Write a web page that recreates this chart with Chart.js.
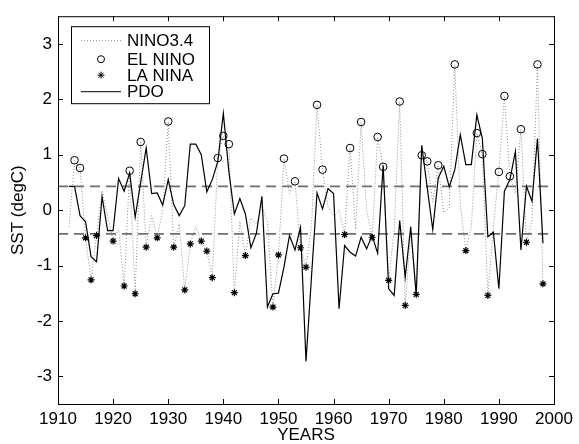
<!DOCTYPE html>
<html>
<head>
<meta charset="utf-8">
<script src="https://cdn.jsdelivr.net/npm/chart.js@4.4.1/dist/chart.umd.min.js"></script>
<style>
html, body { margin: 0; padding: 0; background: #fff; }
</style>
</head>
<body>
<canvas id="sst-chart" width="579" height="444"></canvas>
<script>
const years = [
    1912, 1913, 1914, 1915, 1916, 1917, 1918, 1919,
    1920, 1921, 1922, 1923, 1924, 1925, 1926, 1927, 1928, 1929,
    1930, 1931, 1932, 1933, 1934, 1935, 1936, 1937, 1938, 1939,
    1940, 1941, 1942, 1943, 1944, 1945, 1946, 1947, 1948, 1949,
    1950, 1951, 1952, 1953, 1954, 1955, 1956, 1957, 1958, 1959,
    1960, 1961, 1962, 1963, 1964, 1965, 1966, 1967, 1968, 1969,
    1970, 1971, 1972, 1973, 1974, 1975, 1976, 1977, 1978, 1979,
    1980, 1981, 1982, 1983, 1984, 1985, 1986, 1987, 1988, 1989,
    1990, 1991, 1992, 1993, 1994, 1995, 1996, 1997, 1998
];

const nino34 = [
    -0.30, 0.90, 0.76, -0.50, -1.26, -0.46, 0.35, -0.10,
    -0.56, -0.35, -1.37, 0.71, -1.51, 1.23, -0.67, -0.10, -0.50, 0.00,
    1.60, -0.67, -0.25, -1.44, -0.61, -0.30, -0.56, -0.74, -1.22, 0.94,
    1.34, 1.19, -1.49, -0.20, -0.82, -0.15, -0.25, 0.05, -0.20, -1.75,
    -0.81, 0.93, 0.30, 0.52, -0.68, -1.03, -0.30, 1.90, 0.73, 0.05,
    -0.10, 0.00, -0.44, 1.12, -0.35, 1.59, 0.00, -0.49, 1.32, 0.78,
    -1.27, -0.35, 1.96, -1.72, -0.40, -1.52, 0.99, 0.88, 0.15, 0.81,
    -0.05, 0.05, 2.63, 0.10, -0.73, -0.30, 1.39, 1.01, -1.54, -0.30,
    0.69, 2.06, 0.61, 0.30, 1.46, -0.58, -0.20, 2.63, -1.33
];

const pdo = [
    0.43, 0.43, -0.10, -0.21, -0.84, -0.93, 0.24, -0.37,
    -0.37, 0.57, 0.34, 0.67, -0.13, 0.50, 1.12, 0.30, 0.31, 0.09,
    0.55, 0.10, -0.10, 0.08, 1.19, 1.19, 1.00, 0.33, 0.55, 0.88,
    1.75, 0.70, -0.07, 0.21, -0.07, -0.68, -0.42, 0.25, -1.75, -1.51,
    -1.50, -1.03, -0.46, -0.72, -0.31, -2.73, -1.20, 0.31, 0.02, 0.39,
    0.30, -1.78, -0.64, -0.76, -0.83, -0.49, -0.70, -0.46, -0.78, 0.81,
    -1.42, -1.54, -0.19, -1.21, -0.30, -1.54, 1.17, 0.40, -0.35, 0.58,
    0.79, 0.42, 0.73, 1.36, 0.82, 0.82, 1.72, 1.29, -0.48, -0.40,
    -1.42, 0.34, 0.55, 1.06, -0.72, 0.43, 0.16, 1.29, -0.60
];

const threshold = 0.43;
const xTicks = [1910, 1920, 1930, 1940, 1950, 1960, 1970, 1980, 1990, 2000];
const yTicks = [-3, -2, -1, 0, 1, 2, 3];

const fontFamily = '"Liberation Sans", Arial, Helvetica, sans-serif';

const ninoPoints = years.map((yr, i) => ({ x: yr, y: nino34[i] }));
const elNino = ninoPoints.filter(p => p.y > threshold);
const laNina = ninoPoints.filter(p => p.y < -threshold);
const pdoPoints = years.map((yr, i) => ({ x: yr, y: pdo[i] }));

function drawStar(ctx, x, y, r) {
    ctx.beginPath();
    for (let k = 0; k < 4; k++) {
        const a = k * Math.PI / 4;
        ctx.moveTo(x - r * Math.cos(a), y - r * Math.sin(a));
        ctx.lineTo(x + r * Math.cos(a), y + r * Math.sin(a));
    }
    ctx.stroke();
}

// box around the plot, inward ticks and the legend
const framePlugin = {
    id: 'frame',
    afterDraw(chart) {
        const { ctx, chartArea: a, scales } = chart;
        ctx.save();
        ctx.strokeStyle = '#000';
        ctx.lineWidth = 1;
        ctx.setLineDash([]);
        ctx.strokeRect(a.left + 0.5, a.top + 0.5, a.right - a.left, a.bottom - a.top);

        const tl = 5;
        ctx.beginPath();
        xTicks.forEach(v => {
            const px = Math.round(scales.x.getPixelForValue(v)) + 0.5;
            ctx.moveTo(px, a.bottom); ctx.lineTo(px, a.bottom - tl);
            ctx.moveTo(px, a.top); ctx.lineTo(px, a.top + tl);
        });
        yTicks.forEach(v => {
            const py = Math.round(scales.y.getPixelForValue(v)) + 0.5;
            ctx.moveTo(a.left, py); ctx.lineTo(a.left + tl, py);
            ctx.moveTo(a.right, py); ctx.lineTo(a.right - tl, py);
        });
        ctx.stroke();

        // legend
        const lx = a.left + 13, ly = a.top + 10;
        ctx.fillStyle = '#fff';
        ctx.fillRect(lx, ly, 138, 77);
        ctx.strokeRect(lx + 0.5, ly + 0.5, 138, 77);

        const rows = [ly + 14, ly + 33, ly + 49, ly + 65];
        const sx0 = lx + 10, sx1 = lx + 50, sxm = lx + 30;

        ctx.strokeStyle = '#888';
        ctx.setLineDash([1, 2]);
        ctx.beginPath();
        ctx.moveTo(sx0, rows[0] + 0.5); ctx.lineTo(sx1, rows[0] + 0.5);
        ctx.stroke();
        ctx.setLineDash([]);

        ctx.strokeStyle = '#000';
        ctx.beginPath();
        ctx.arc(sxm, rows[1], 3.5, 0, Math.PI * 2);
        ctx.stroke();
        drawStar(ctx, sxm, rows[2], 3.5);

        ctx.beginPath();
        ctx.moveTo(sx0, rows[3] + 0.5); ctx.lineTo(sx1, rows[3] + 0.5);
        ctx.stroke();

        ctx.fillStyle = '#000';
        ctx.font = '17px ' + fontFamily;
        ctx.textBaseline = 'middle';
        ctx.textAlign = 'left';
        ['NINO3.4', 'EL NINO', 'LA NINA', 'PDO'].forEach((t, i) => {
            ctx.fillText(t, lx + 56, rows[i] + 1);
        });
        ctx.restore();
    }
};

const sstChart = new Chart(document.getElementById('sst-chart').getContext('2d'), {
    type: 'line',
    data: {
        datasets: [
            {
                label: 'PDO',
                data: pdoPoints,
                borderColor: '#000',
                borderWidth: 1.2,
                pointRadius: 0,
                tension: 0,
                order: 0
            },
            {
                label: 'EL NINO',
                data: elNino,
                showLine: false,
                pointStyle: 'circle',
                pointRadius: 3.8,
                pointBorderWidth: 1,
                pointBorderColor: '#000',
                pointBackgroundColor: 'transparent',
                order: 1
            },
            {
                label: 'LA NINA',
                data: laNina,
                showLine: false,
                pointStyle: 'star',
                pointRadius: 3.5,
                pointBorderWidth: 1.2,
                pointBorderColor: '#000',
                pointBackgroundColor: '#000',
                order: 1
            },
            {
                label: 'NINO3.4',
                data: ninoPoints,
                borderColor: '#8c8c8c',
                borderWidth: 1,
                borderDash: [1, 2],
                pointRadius: 0,
                tension: 0,
                order: 2
            },
            {
                label: 'upper',
                data: [{ x: xTicks[0], y: threshold }, { x: xTicks[xTicks.length - 1], y: threshold }],
                borderColor: '#6e6e6e',
                borderWidth: 1.8,
                borderDash: [10, 6],
                pointRadius: 0,
                order: 3
            },
            {
                label: 'lower',
                data: [{ x: xTicks[0], y: -threshold }, { x: xTicks[xTicks.length - 1], y: -threshold }],
                borderColor: '#6e6e6e',
                borderWidth: 1.8,
                borderDash: [10, 6],
                pointRadius: 0,
                order: 3
            }
        ]
    },
    options: {
        responsive: false,
        animation: false,
        layout: {
            padding: { left: 0, right: 25, top: 13, bottom: 0 }
        },
        plugins: {
            legend: { display: false },
            tooltip: { enabled: false }
        },
        scales: {
            x: {
                type: 'linear',
                min: 1910,
                max: 2000,
                afterBuildTicks: s => { s.ticks = xTicks.map(v => ({ value: v })); },
                afterFit: s => { s.height = 40; },
                grid: { display: false, drawTicks: false },
                border: { display: false },
                ticks: {
                    color: '#000',
                    padding: 5,
                    maxRotation: 0,
                    font: { family: fontFamily, size: 17 },
                    callback: v => String(v)
                },
                title: {
                    display: true,
                    text: 'YEARS',
                    color: '#000',
                    padding: { top: 0, bottom: 0 },
                    font: { family: fontFamily, size: 17, lineHeight: 1 }
                }
            },
            y: {
                min: -3.5,
                max: 3.5,
                afterBuildTicks: s => { s.ticks = yTicks.map(v => ({ value: v })); },
                afterFit: s => { s.width = 58; },
                grid: { display: false, drawTicks: false },
                border: { display: false },
                ticks: {
                    color: '#000',
                    padding: 6,
                    font: { family: fontFamily, size: 17 },
                    callback: v => String(v)
                },
                title: {
                    display: true,
                    text: 'SST (degC)',
                    color: '#000',
                    padding: { top: 10, bottom: 0 },
                    font: { family: fontFamily, size: 17, lineHeight: 1 }
                }
            }
        }
    },
    plugins: [framePlugin]
});
</script>
</body>
</html>
